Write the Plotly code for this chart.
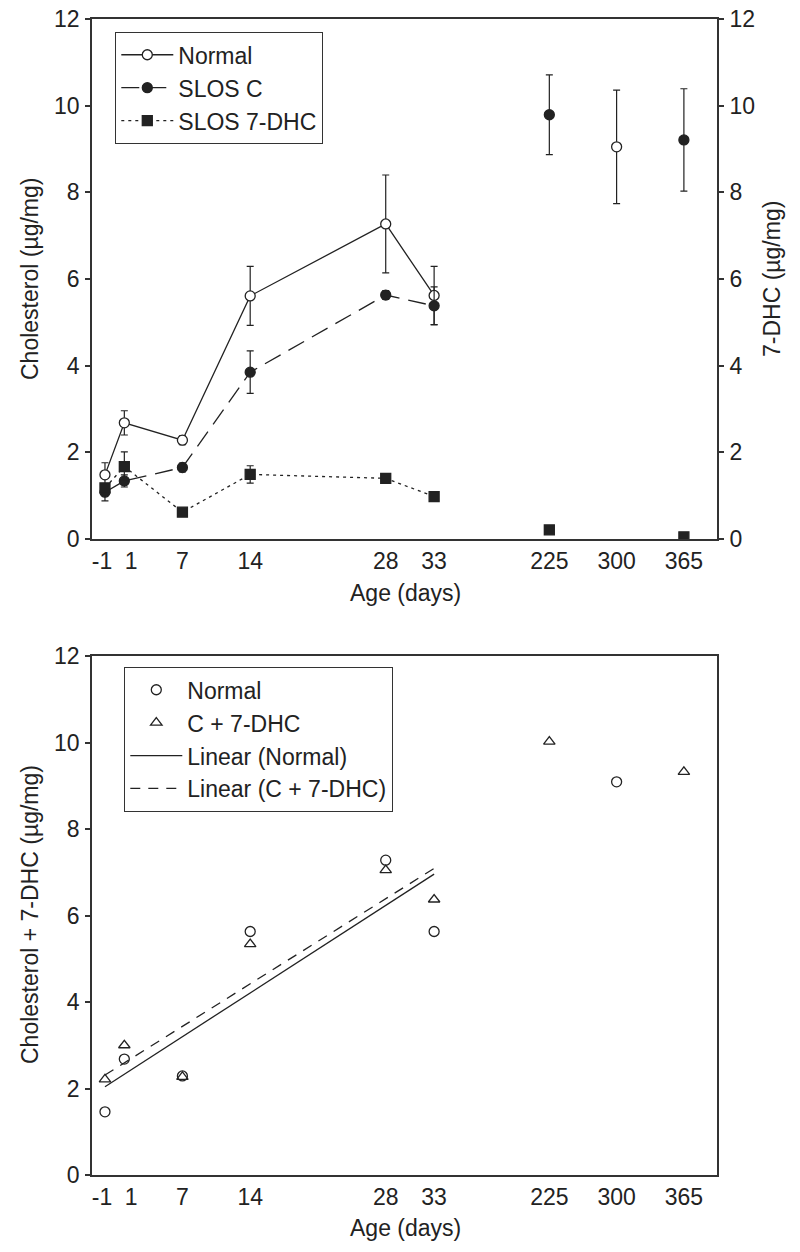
import numpy as np
import plotly.graph_objects as go

# ---------------- data ----------------
ages = [-1, 1, 7, 14, 28, 33, 225, 300, 365]
age_labels = ["-1", "1", "7", "14", "28", "33", "225", "300", "365"]

# top panel
normal_chol = [1.48, 2.68, 2.28, 5.61, 7.27, 5.62, None, 9.05, None]
normal_chol_err = [0.28, 0.28, 0.10, 0.68, 1.13, 0.67, None, 1.31, None]
slos_chol = [1.08, 1.34, 1.65, 3.85, 5.63, 5.38, 9.79, None, 9.21]
slos_chol_err = [0.20, 0.14, 0.10, 0.49, 0.10, 0.44, 0.92, None, 1.18]
slos_dhc = [1.18, 1.67, 0.62, 1.49, 1.40, 0.98, 0.21, None, 0.05]
slos_dhc_err = [0.10, 0.34, 0.05, 0.20, 0.05, 0.05, 0.05, None, 0.05]

# bottom panel (cholesterol + 7-DHC)
normal_total = [1.46, 2.68, 2.29, 5.63, 7.28, 5.63, None, 9.09, None]
slos_total = [2.21, 3.00, 2.27, 5.34, 7.05, 6.37, 10.02, None, 9.32]

# ---------------- broken x scale ----------------
EARLY_MAX = 33          # ages up to here are on a linear day scale
LATE_START = 44.9       # position of the first late age
LATE_STEP = 6.95        # late ages are evenly spaced
# the two crowded first labels are nudged apart (axis units)
LABEL_NUDGE = {-1: -0.3, 1: 0.7}


def xpos(age):
    if age <= EARLY_MAX:
        return age
    late = [a for a in ages if a > EARLY_MAX]
    return LATE_START + late.index(age) * LATE_STEP


X = [xpos(a) for a in ages]
label_pos = [xpos(a) + LABEL_NUDGE.get(a, 0) for a in ages]
early_idx = [i for i, a in enumerate(ages) if a <= EARLY_MAX]
late_idx = [i for i, a in enumerate(ages) if a > EARLY_MAX]

INK = "#222222"
AX = "#333333"
FONT = "Liberation Sans, Arial, sans-serif"
FS = 23


def pick(arr, idx):
    return [arr[i] for i in idx]


fig = go.Figure()


# ---------- top panel ----------
def add_series(vals, errs, name, symbol, fill, dash, yaxis):
    marker = dict(symbol=symbol, size=10, color=fill,
                  line=dict(color=INK, width=1.3))

    def err(idx):
        return dict(type="data", array=[errs[i] for i in idx], visible=True,
                    color=INK, thickness=1.2, width=3.5)

    fig.add_trace(go.Scatter(
        x=pick(X, early_idx), y=pick(vals, early_idx),
        mode="lines+markers", name=name, marker=marker,
        line=dict(color=INK, width=1.3, dash=dash),
        error_y=err(early_idx), xaxis="x", yaxis=yaxis,
        legend="legend", showlegend=True))
    li = [i for i in late_idx if vals[i] is not None]
    fig.add_trace(go.Scatter(
        x=[X[i] for i in li], y=[vals[i] for i in li],
        mode="markers", name=name, marker=marker, error_y=err(li),
        xaxis="x", yaxis=yaxis, showlegend=False))


add_series(normal_chol, normal_chol_err, "Normal", "circle", "white", "solid", "y")
add_series(slos_chol, slos_chol_err, "SLOS C", "circle", INK, "18px,9px", "y")
add_series(slos_dhc, slos_dhc_err, "SLOS 7-DHC", "square", INK, "3px,4px", "y2")

# ---------- bottom panel ----------
fig.add_trace(go.Scatter(
    x=X, y=normal_total, mode="markers", name="Normal",
    marker=dict(symbol="circle-open", size=10, color=INK, line=dict(width=1.3)),
    xaxis="x2", yaxis="y3", legend="legend2"))
fig.add_trace(go.Scatter(
    x=X, y=slos_total, mode="markers", name="C + 7-DHC",
    marker=dict(symbol="triangle-up-open", size=10, color=INK, line=dict(width=1.3)),
    xaxis="x2", yaxis="y3", legend="legend2"))

fit_x = np.array(pick(ages, early_idx), dtype=float)
ends = np.array([fit_x.min(), fit_x.max()])
for vals, name, dash in [(normal_total, "Linear (Normal)", "solid"),
                         (slos_total, "Linear (C + 7-DHC)", "10px,8px")]:
    k, b = np.polyfit(fit_x, np.array(pick(vals, early_idx), dtype=float), 1)
    fig.add_trace(go.Scatter(
        x=[xpos(e) for e in ends], y=k * ends + b, mode="lines", name=name,
        line=dict(color=INK, width=1.3, dash=dash),
        xaxis="x2", yaxis="y3", legend="legend2"))

# ---------- axes ----------
# the page body margin is removed below, so the figure fills the window
W, H = 800, 1252


def fx(px):
    return px / W


def fy(py):
    return (H - py) / H


px_l, px_r = 92, 717
top_t, top_b = 19, 539
bot_t, bot_b = 656, 1175
xdom = [fx(px_l), fx(px_r)]
top_dom = [fy(top_b), fy(top_t)]
bot_dom = [fy(bot_b), fy(bot_t)]
xrange = [-2.34, 62.22]

xcommon = dict(range=xrange, tickmode="array", tickvals=label_pos,
               ticktext=age_labels, tickangle=0, ticklabeloverflow="allow",
               showgrid=False, zeroline=False, showline=True, mirror=True,
               linecolor=AX, linewidth=1.6, ticks="", ticklabelstandoff=1,
               automargin=False,
               tickfont=dict(family=FONT, size=FS, color=INK), domain=xdom)
ycommon = dict(range=[0, 12], tickvals=[0, 2, 4, 6, 8, 10, 12], showgrid=False,
               zeroline=False, showline=True, linecolor=AX, linewidth=1.6,
               ticks="outside", ticklen=5, tickwidth=1.5, tickcolor=AX,
               ticklabelstandoff=1, automargin=False, ticklabeloverflow="allow",
               tickfont=dict(family=FONT, size=FS, color=INK))

legend_common = dict(bgcolor="white", bordercolor=AX, borderwidth=1.3,
                     font=dict(family=FONT, size=FS, color=INK),
                     xanchor="left", yanchor="top", tracegroupgap=0,
                     itemwidth=52)

fig.update_layout(
    width=W, height=H, margin=dict(l=0, r=0, t=0, b=0, autoexpand=False),
    paper_bgcolor="white", plot_bgcolor="white",
    xaxis=dict(**xcommon, anchor="y"),
    yaxis=dict(**ycommon, domain=top_dom, anchor="x", mirror=True),
    yaxis2=dict(**ycommon, overlaying="y", side="right", anchor="x"),
    xaxis2=dict(**xcommon, anchor="y3"),
    yaxis3=dict(**ycommon, domain=bot_dom, anchor="x2", mirror=True),
    legend=dict(**legend_common, x=fx(115), y=fy(32)),
    legend2=dict(**legend_common, x=fx(124), y=fy(667)),
    showlegend=True,
)

ann = dict(font=dict(family=FONT, size=FS, color=INK), showarrow=False,
           xref="paper", yref="paper", xanchor="center", yanchor="middle")
fig.add_annotation(text="Age (days)", x=fx(405), y=fy(593), **ann)
fig.add_annotation(text="Age (days)", x=fx(405), y=fy(1228), **ann)
fig.add_annotation(text="Cholesterol (µg/mg)", x=fx(30), y=fy(279),
                   textangle=-90, **ann)
fig.add_annotation(text="7-DHC (µg/mg)", x=fx(772), y=fy(279),
                   textangle=-90, **ann)
fig.add_annotation(text="Cholesterol + 7-DHC (µg/mg)", x=fx(30),
                   y=fy(915), textangle=-90, **ann)

fig.write_html(
    "out.html",
    config={"displayModeBar": False},
    post_script="document.body.style.margin='0';"
                "document.body.style.overflow='hidden';",
)
